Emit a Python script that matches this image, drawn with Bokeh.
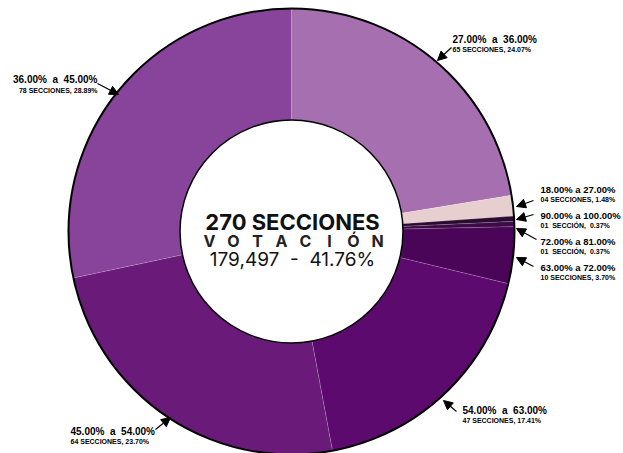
import math
from bokeh.plotting import figure
from bokeh.models import Range1d, Arrow, NormalHead, ColumnDataSource
from bokeh.core.properties import value
from bokeh.embed import file_html
from bokeh.resources import INLINE

NB = "\u00a0"
# ---------------- data ----------------
ranges = ["27.00%  a  36.00%", "18.00% a 27.00%", "90.00% a 100.00%", "72.00% a 81.00%",
          "63.00% a 72.00%", "54.00%  a  63.00%", "45.00%  a  54.00%", "36.00%  a  45.00%"]
sections = ["65 SECCIONES, 24.07%", "04 SECCIONES, 1.48%", "01  SECCIÓN,  0.37%", "01  SECCIÓN,  0.37%",
            "10 SECCIONES, 3.70%", "47 SECCIONES, 17.41%", "64 SECCIONES, 23.70%", "78 SECCIONES, 28.89%"]
# slice share as drawn in the picture (percent of the ring)
share = [22.4, 1.5, 0.38, 0.38, 4.1, 18.3, 24.6, 28.34]
colors = ["#A670B0", "#E8CFCF", "#2B0B31", "#3E0A47", "#4A0559", "#5C0A6E", "#6A1B7A", "#88439A"]
title_line = "270 SECCIONES"
subtitle = "VOTACIÓN"
votes_line = "179,497  -  41.76%"

def nb(s):
    return s.replace("  ", NB + NB)

# ---------------- layout ----------------
W, H = 623, 453
def sy(y):  # screen y -> data y
    return H - y

p = figure(width=W, height=H, x_range=Range1d(0, W), y_range=Range1d(0, H),
           output_backend="svg", toolbar_location=None, min_border=0)
p.axis.visible = False
p.grid.visible = False
p.outline_line_color = None
p.background_fill_color = "white"
p.border_fill_color = "white"

cx, cy = 291, sy(231)
R, r = 223, 111.5

total = sum(share)
starts, ends = [], []
cum = 0.0
for s in share:
    a0 = cum / total * 2 * math.pi
    cum += s
    a1 = cum / total * 2 * math.pi
    starts.append(math.pi / 2 - a1)
    ends.append(math.pi / 2 - a0)

src = ColumnDataSource(dict(start=starts, end=ends, color=colors))
p.annular_wedge(x=cx, y=cy, inner_radius=r, outer_radius=R, start_angle="start", end_angle="end",
                direction="anticlock", fill_color="color", line_color="white", line_alpha=0.25,
                line_width=0.6, source=src)
p.circle(x=cx, y=cy, radius=R, fill_color=None, line_color="black", line_width=2)
p.circle(x=cx, y=cy, radius=r, fill_color="white", line_color="black", line_width=1.5)

# center texts
FONT = "Inter"
p.text(x=[cx + 1], y=[sy(221)], text=[title_line], text_font=value(FONT), text_font_style="bold",
       text_font_size="22px", text_align="center", text_baseline="alphabetic", text_color="#111111")
letters = list(subtitle)
lx = [cx + 2 + (i - (len(letters) - 1) / 2) * 24 for i in range(len(letters))]
p.text(x=lx, y=[sy(240)] * len(letters), text=letters, text_font=value(FONT), text_font_style="bold",
       text_font_size="16px", text_align="center", text_baseline="alphabetic", text_color="#222222")
p.text(x=[cx + 1], y=[sy(259)], text=[nb(votes_line)], text_font=value(FONT),
       text_font_size="19px", text_align="center", text_baseline="alphabetic", text_color="#111111")

# callouts: (label x, bold-line y, small-line y, align, bold size, arrow tail, arrow tip)
callouts = [
    (452, 39, 48.5, "left", 10, (451, 47), (437, 60)),
    (540, 188.5, 199, "left", 9.5, (533, 200), (516, 206)),
    (540, 215, 224.5, "left", 9.5, (533, 214), (516, 219)),
    (540, 240.5, 250.5, "left", 9.5, (536, 239), (516, 228)),
    (540, 266.5, 276.5, "left", 9.5, (533, 266), (516, 257)),
    (462, 410, 420, "left", 10, (456, 411), (443, 400)),
    (70, 431, 440.5, "left", 10, (155, 429), (170, 417)),
    (97, 78.5, 89.5, "right", 10, (97, 83), (118, 94)),
]
LF = "Liberation Sans"
for i, (x, yb, ys, al, fs, tail, tip) in enumerate(callouts):
    p.text(x=[x], y=[sy(yb)], text=[nb(ranges[i])], text_font=value(LF), text_font_style="bold",
           text_font_size=f"{fs}px", text_align=al, text_baseline="middle", text_color="black")
    p.text(x=[x], y=[sy(ys)], text=[nb(sections[i])], text_font=value(LF), text_font_style="bold",
           text_font_size="7px", text_align=al, text_baseline="middle", text_color="black")
    p.add_layout(Arrow(x_start=tail[0], y_start=sy(tail[1]), x_end=tip[0], y_end=sy(tip[1]),
                       line_color="black", line_width=1.2,
                       end=NormalHead(size=9, fill_color="black", line_color="black")))

open("out.html", "w").write(file_html(p, INLINE))
